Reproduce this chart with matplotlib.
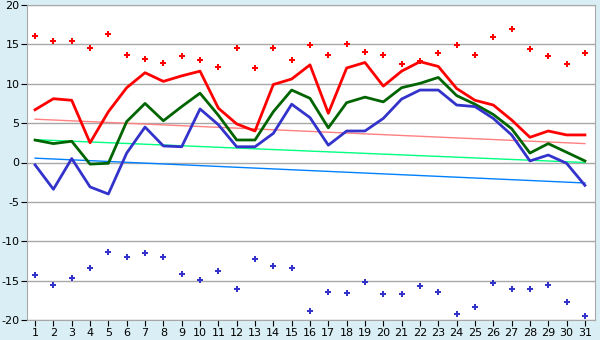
import matplotlib
matplotlib.use('Agg')
import matplotlib.pyplot as plt
import numpy as np

plt.rcParams['axes.unicode_minus'] = False

# Tage des Monats
days = list(range(1, 32))

# Tageswerte (Max / Mittel / Min)
t_max = [6.7, 8.1, 7.9, 2.5, 6.45, 9.5, 11.4, 10.3, 11.0, 11.6,
         6.9, 4.9, 4.0, 9.9, 10.6, 12.4, 6.25, 12.0, 12.7, 9.7,
         11.6, 12.8, 12.2, 9.4, 7.9, 7.3, 5.4, 3.2, 4.0, 3.5, 3.5]
t_mean = [2.85, 2.4, 2.7, -0.2, -0.1, 5.2, 7.5, 5.3, 7.1, 8.8,
          6.0, 2.86, 2.86, 6.45, 9.2, 8.15, 4.4, 7.6, 8.3, 7.7,
          9.5, 10.05, 10.8, 8.5, 7.4, 6.1, 4.3, 1.2, 2.4, 1.3, 0.2]
t_min = [-0.3, -3.4, 0.5, -3.1, -4.0, 1.2, 4.5, 2.1, 2.0, 6.8,
         4.8, 2.0, 2.0, 3.7, 7.4, 5.7, 2.2, 4.0, 4.0, 5.6,
         8.06, 9.2, 9.2, 7.3, 7.1, 5.6, 3.5, 0.2, 0.95, -0.1, -2.9]

# Rekordwerte
rec_max = [16.06, 15.4, 15.4, 14.5, 16.3, 13.65, 13.2, 12.6, 13.5, 13.0,
           12.1, 14.5, 12.0, 14.5, 13.0, 14.9, 13.7, 15.0, 14.0, 13.7,
           12.5, 12.9, 13.9, 14.9, 13.7, 15.9, 16.9, 14.4, 13.5, 12.5, 13.9]
rec_min = [-14.3, -15.6, -14.7, -13.4, -11.4, -12.0, -11.5, -12.0, -14.1, -14.96,
           -13.8, -16.1, -12.2, -13.2, -13.4, -18.8, -16.5, -16.6, -15.2, -16.7,
           -16.7, -15.7, -16.4, -19.3, -18.3, -15.3, -16.1, -16.0, -15.6, -17.75, -19.5]

# Trendlinien (Anfang / Ende)
trend_max = [5.5, 2.4]
trend_mean = [2.9, 0.0]
trend_min = [0.55, -2.6]

fig = plt.figure(figsize=(6, 3.4), dpi=100)
fig.patch.set_facecolor('#d9eef5')
ax = fig.add_axes([27/600, 20/340, 568/600, 315/340])
ax.set_facecolor('white')

for y in range(-20, 21, 5):
    ax.axhline(y, color='#a8a8a8', lw=1, zorder=1)

ends = [days[0], days[-1]]
ax.plot(ends, trend_max, color='#ff8080', lw=1, zorder=2)
ax.plot(ends, trend_mean, color='#00ff80', lw=1, zorder=2)
ax.plot(ends, trend_min, color='#0080ff', lw=1, zorder=2)

ax.plot(days, t_max, color='#ff0000', lw=2, zorder=3)
ax.plot(days, t_mean, color='#006400', lw=2, zorder=3)
ax.plot(days, t_min, color='#3333cc', lw=2, zorder=3)

ax.plot(days, rec_max, ls='none', marker='P', ms=4.5, color='#ff0000',
        markeredgewidth=0, zorder=4)
ax.plot(days, rec_min, ls='none', marker='P', ms=4.5, color='#3333cc',
        markeredgewidth=0, zorder=4)

ax.set_xlim(0.56, 31.55)
ax.set_ylim(-20, 20)
ax.set_xticks(days)
ax.set_yticks(range(-20, 21, 5))
ax.tick_params(axis='both', labelsize=8, length=4, color='black', pad=1.5)
for s in ax.spines.values():
    s.set_color('#a8a8a8')

plt.savefig('out.png', dpi=100, facecolor=fig.get_facecolor())
